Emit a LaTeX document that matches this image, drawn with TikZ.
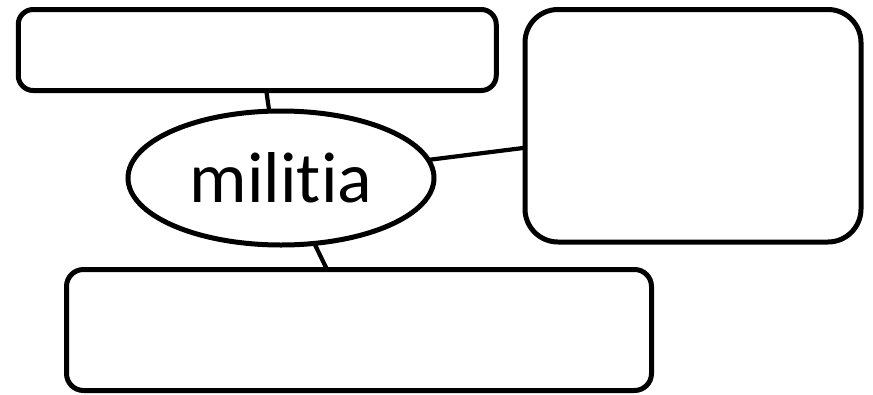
\documentclass[tikz,border=0pt]{standalone}
\usepackage{fontspec}
\setmainfont{Carlito}[Ligatures=NoCommon]
\usetikzlibrary{shapes.geometric}
\tikzset{
  card/.style={draw=black, line width=5pt, fill=white, inner sep=0pt, outer sep=0pt},
  hub/.style={draw=black, line width=5pt, fill=white, ellipse, inner sep=0pt, outer sep=0pt,
    minimum width=306pt, minimum height=134pt, font=\fontsize{72}{86}\selectfont},
  link/.style={draw=black, line width=4.2pt}
}
\begin{document}
\begin{tikzpicture}[x=1pt, y=-1pt]
  \useasboundingbox (0,0) rectangle (873,394);
  % blank answer boxes
  \node[card, rounded corners=15pt, minimum width=478pt, minimum height=81pt] (top) at (257.25,50) {};
  \node[card, rounded corners=33pt, minimum width=336pt, minimum height=232.5pt] (side) at (693,125.75) {};
  \node[card, rounded corners=17pt, minimum width=585pt, minimum height=121pt] (low) at (359,330) {};
  % central term
  \node[hub] (term) at (281,178) {\raisebox{-3pt}{militia}};
  % spokes
  \draw[link] ([xshift=248pt]top.south west) -- (term.100);
  \draw[link] (term.7.3) -- ([yshift=-22pt]side.west);
  \draw[link] (term.-63) -- ([xshift=260.5pt]low.north west);
\end{tikzpicture}
\end{document}
